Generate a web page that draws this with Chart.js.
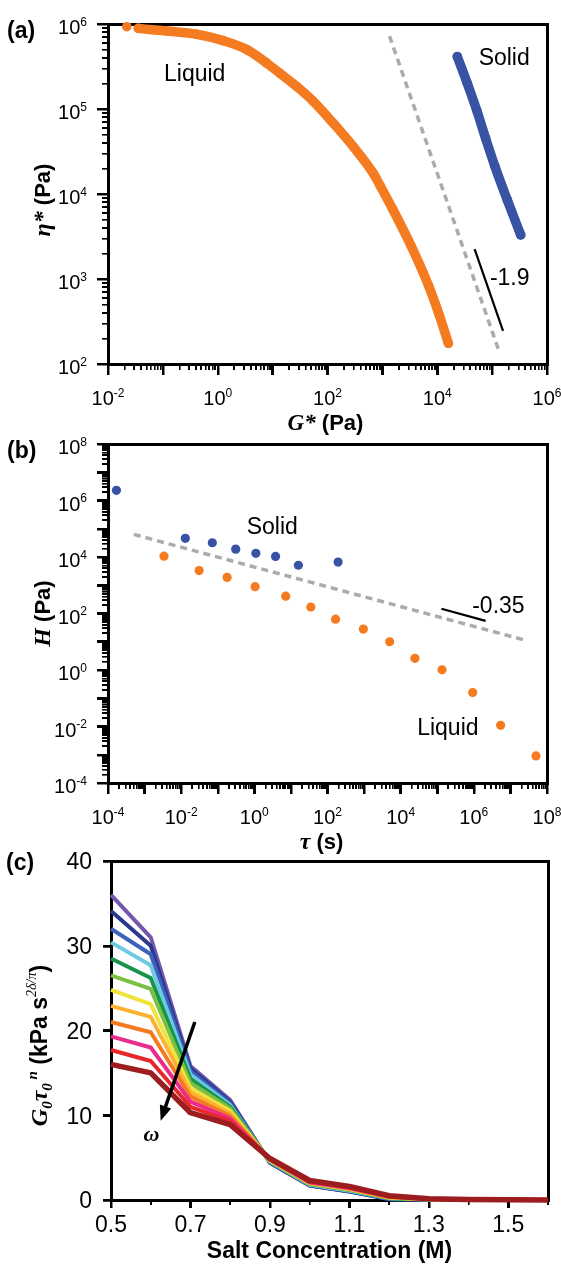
<!DOCTYPE html>
<html><head><meta charset="utf-8">
<script src="https://cdn.jsdelivr.net/npm/chart.js@4/dist/chart.umd.min.js"></script>
<style>
html,body{margin:0;padding:0;background:#fff;width:561px;height:1265px;overflow:hidden;position:relative}
canvas{position:absolute;left:0}
.fr{position:absolute;background:#000}
</style></head><body>
<canvas id="ca" width="561" height="440" style="top:0px"></canvas>
<canvas id="cb" width="561" height="440" style="top:420px"></canvas>
<canvas id="cc" width="561" height="425" style="top:840px"></canvas>
<script>
// ---------- DATA ----------
// (a) complex viscosity vs complex modulus
const aLiquidG   = [0.022, 0.0357, 0.1175, 0.413, 1.26, 3.37, 7.8, 13.6, 27.4, 55.1, 128, 295, 684, 906, 1549, 3281, 6966, 10940, 15960];
const aLiquidEta = [9.3e5, 8.89e5, 8.28e5, 7.57e5, 6.37e5, 5.01e5, 3.47e5, 2.63e5, 1.84e5, 1.23e5, 6.79e4, 3.61e4, 1.75e4, 1.26e4, 6.6e3, 2.51e3, 832, 372, 175];
const aSolidG    = [23200, 35300, 52200, 76200, 112700, 189000, 332000];
const aSolidEta  = [4.13e5, 2.0e5, 9.7e4, 4.5e4, 2.1e4, 8.5e3, 3.3e3];
const aGuideG    = [1350, 129000];
const aGuideEta  = [7.2e5, 151];
const aSlopeG    = [48000, 158000];
const aSlopeEta  = [2240, 245];
const aXLabelExp = [-2, 0, 2, 4, 6];
const aYLabelExp = [2, 3, 4, 5, 6];

// (b) relaxation spectrum
const bSolidTau  = [1.7e-4, 0.013, 0.071, 0.31, 1.1, 3.8, 16, 195];
const bSolidH    = [2.3e6, 4.6e4, 3.2e4, 1.9e4, 1.35e4, 1.05e4, 5.1e3, 6.6e3];
const bLiquidTau = [3.4e-3, 0.031, 0.18, 1.05, 7.2, 35, 166, 955, 5000, 24500, 135000, 9.3e5, 5.4e6, 5.0e7];
const bLiquidH   = [1.07e4, 3.3e3, 1.9e3, 890, 410, 170, 63, 28, 10, 2.6, 1.02, 0.16, 0.011, 9.1e-4];
const bGuideTau  = [5.1e-4, 2.6e7];
const bGuideH    = [6.3e4, 11.2];
const bSlopeTau  = [1.3e5, 2.1e6];
const bSlopeH    = [148, 55];
const bXLabelExp = [-4, -2, 0, 2, 4, 6, 8];
const bYLabelExp = [-4, -2, 0, 2, 4, 6, 8];

// (c) G0*tau0^n vs salt concentration, one series per frequency
const cSalt = [0.5, 0.6, 0.7, 0.8, 0.9, 1.0, 1.1, 1.2, 1.3, 1.4, 1.5, 1.6];
const cS1  = [36.0, 31.0, 15.8, 11.8, 4.4, 1.7, 1.0, 0.10, 0.05, 0.02, 0.01, 0];
const cS2  = [34.1, 30.0, 15.5, 11.6, 4.4, 1.7, 1.0, 0.10, 0.05, 0.02, 0.01, 0];
const cS3  = [32.0, 29.0, 15.2, 11.4, 4.5, 1.8, 1.1, 0.15, 0.05, 0.02, 0.01, 0];
const cS4  = [30.4, 27.7, 14.8, 11.2, 4.5, 1.8, 1.1, 0.20, 0.06, 0.02, 0.01, 0];
const cS5  = [28.5, 26.2, 14.3, 11.0, 4.6, 1.9, 1.2, 0.20, 0.07, 0.03, 0.01, 0];
const cS6  = [26.5, 24.9, 13.8, 10.8, 4.6, 1.9, 1.2, 0.25, 0.08, 0.03, 0.01, 0];
const cS7  = [24.8, 23.1, 13.2, 10.5, 4.7, 2.0, 1.3, 0.30, 0.09, 0.03, 0.01, 0];
const cS8  = [22.9, 21.6, 12.7, 10.2, 4.7, 2.0, 1.3, 0.30, 0.10, 0.04, 0.02, 0];
const cS9  = [21.0, 19.8, 12.2, 9.9, 4.8, 2.1, 1.4, 0.35, 0.11, 0.04, 0.02, 0];
const cS10 = [19.3, 18.0, 11.6, 9.6, 4.8, 2.1, 1.4, 0.40, 0.12, 0.04, 0.02, 0];
const cS11 = [17.7, 16.4, 11.0, 9.3, 4.9, 2.2, 1.5, 0.45, 0.13, 0.05, 0.02, 0];
const cS12 = [16.0, 15.0, 10.3, 8.9, 4.9, 2.3, 1.6, 0.50, 0.15, 0.05, 0.02, 0];
const cSeries = [cS1, cS2, cS3, cS4, cS5, cS6, cS7, cS8, cS9, cS10, cS11, cS12];
const cColors = ['#7457ad', '#2b3890', '#3c62bb', '#6ccbe2', '#16954a', '#7cc043', '#efe33c', '#fbb232', '#f47a22', '#ec2c8c', '#e6282a', '#9c1c20'];
const cXTicks = [0.5, 0.7, 0.9, 1.1, 1.3, 1.5];
const cYTicks = [0, 10, 20, 30, 40];

// ---------- STYLE ----------
const SANS = '"Liberation Sans", Arial, sans-serif';
const SERIF = '"Liberation Serif", "Times New Roman", serif';
const ORANGE = '#f47b20';
const BLUE = '#3953a4';
const GUIDE = '#ababab';

const pts = (xs, ys) => xs.map((x, i) => ({x, y: ys[i]}));

function drawRuns(ctx, runs, x, y, align, rot) {
  ctx.save();
  ctx.translate(x, y);
  if (rot) ctx.rotate(rot);
  let w = 0;
  runs.forEach(r => { ctx.font = r.f; w += ctx.measureText(r.t).width; });
  let cx = align === 'center' ? -w / 2 : (align === 'right' ? -w : 0);
  ctx.textBaseline = 'alphabetic';
  ctx.textAlign = 'left';
  ctx.fillStyle = '#000';
  runs.forEach(r => { ctx.font = r.f; ctx.fillText(r.t, cx, r.dy || 0); cx += ctx.measureText(r.t).width; });
  ctx.restore();
}
function powRuns(exp, size) {
  return [{t: '10', f: size + 'px ' + SANS}, {t: String(exp), f: Math.round(size * 0.62) + 'px ' + SANS, dy: -size * 0.42}];
}
function seg(ctx, x1, y1, x2, y2) { ctx.beginPath(); ctx.moveTo(x1, y1); ctx.lineTo(x2, y2); ctx.stroke(); }

function logTicks(min, max) {
  const out = [];
  const k0 = Math.round(Math.log10(min)), k1 = Math.round(Math.log10(max));
  for (let k = k0; k <= k1; k++) {
    out.push({v: Math.pow(10, k), major: true});
    if (k < k1) for (let m = 2; m <= 9; m++) out.push({v: m * Math.pow(10, k), major: false});
  }
  return out;
}

// Frame and tick marks drawn by Chart.js: bottom/left axes carry minor ticks,
// twin axes carry the longer major ticks, top/right axes only draw the box border.
function frameScales(f) {
  const zeroH = s => { s.height = 0; }, zeroW = s => { s.width = 0; };
  const setTicks = list => s => { s.ticks = list.map(t => ({value: t.v, major: t.major})); };
  const base = (axis, type, min, max, position, fit) => ({axis, type, min, max, position, afterFit: fit, ticks: {display: false}, title: {display: false}});
  const ticked = (len, w) => ({display: true, drawOnChartArea: false, drawTicks: true, tickLength: len, tickColor: '#000', tickWidth: w, color: '#000', lineWidth: w});
  const border = {display: true, color: '#000', width: 3};
  const minorX = f.xTicks.filter(t => !t.major), minorY = f.yTicks.filter(t => !t.major);
  return {
    x: Object.assign(base('x', f.xType, f.xMin, f.xMax, 'bottom', zeroH), {afterBuildTicks: setTicks(minorX.length ? minorX : f.xTicks), border, grid: ticked(minorX.length ? f.minLen : f.majLen, minorX.length ? 1.6 : 2.5)}),
    xMaj: Object.assign(base('x', f.xType, f.xMin, f.xMax, 'bottom', zeroH), {afterBuildTicks: setTicks(f.xTicks.filter(t => t.major)), border: {display: false}, grid: ticked(f.majLen, 2.5)}),
    xTop: Object.assign(base('x', f.xType, f.xMin, f.xMax, 'top', zeroH), {border, grid: {display: false}}),
    y: Object.assign(base('y', f.yType, f.yMin, f.yMax, 'left', zeroW), {afterBuildTicks: setTicks(minorY.length ? minorY : f.yTicks), border, grid: ticked(minorY.length ? f.minLen : f.majLen, minorY.length ? 1.6 : 2.5)}),
    yMaj: Object.assign(base('y', f.yType, f.yMin, f.yMax, 'left', zeroW), {afterBuildTicks: setTicks(f.yTicks.filter(t => t.major)), border: {display: false}, grid: ticked(f.majLen, 2.5)}),
    yRight: Object.assign(base('y', f.yType, f.yMin, f.yMax, 'right', zeroW), {border, grid: {display: false}})
  };
}

// Same frame and ticks as plain page elements placed under the canvases,
// positioned from the chart's own scales (a fallback so the box always shows).
function overlayFrame(chart, f) {
  const top = parseFloat(chart.canvas.style.top) || 0;
  const a = chart.chartArea, xs = chart.scales.x, ys = chart.scales.y;
  const first = document.body.firstChild;
  const add = (l, t, w, h) => {
    const d = document.createElement('div');
    d.className = 'fr';
    d.style.left = l + 'px'; d.style.top = (t + top) + 'px'; d.style.width = w + 'px'; d.style.height = h + 'px';
    document.body.insertBefore(d, first);
  };
  const fw = 3;
  add(a.left - fw / 2, a.top - fw / 2, a.right - a.left + fw, fw);
  add(a.left - fw / 2, a.bottom - fw / 2, a.right - a.left + fw, fw);
  add(a.left - fw / 2, a.top - fw / 2, fw, a.bottom - a.top + fw);
  add(a.right - fw / 2, a.top - fw / 2, fw, a.bottom - a.top + fw);
  f.xTicks.forEach(t => {
    const p = xs.getPixelForValue(t.v), w = t.major ? 2.5 : 1.6, len = t.major ? f.majLen : f.minLen;
    add(p - w / 2, a.bottom, w, len);
  });
  f.yTicks.forEach(t => {
    const p = ys.getPixelForValue(t.v), w = t.major ? 2.5 : 1.6, len = t.major ? f.majLen : f.minLen;
    add(a.left - len, p - w / 2, len, w);
  });
}

function decor(cfg) {
  return {
    id: 'decor' + cfg.key,
    afterDraw(chart) {
      const ctx = chart.ctx, a = chart.chartArea, xs = chart.scales.x, ys = chart.scales.y;
      const fs = cfg.tickFont;
      cfg.xLabels.forEach(l => drawRuns(ctx, l.runs, xs.getPixelForValue(l.v), a.bottom + cfg.xLabelOff + fs * 0.36, 'center'));
      cfg.yLabels.forEach(l => drawRuns(ctx, l.runs, a.left - cfg.yLabelOff, ys.getPixelForValue(l.v) + cfg.yLabelDy + fs * 0.36, 'right'));
      drawRuns(ctx, cfg.xTitle, (a.left + a.right) / 2 + cfg.xTitleDx, a.bottom + cfg.xTitleOff, 'center');
      drawRuns(ctx, cfg.yTitle, cfg.yTitleX, (a.top + a.bottom) / 2 + cfg.yTitleDy, 'center', -Math.PI / 2);
      drawRuns(ctx, [{t: cfg.letter, f: 'bold 23px ' + SANS}], cfg.letterX, cfg.letterY, 'left');
      (cfg.notes || []).forEach(n => drawRuns(ctx, [{t: n.t, f: n.f}], xs.getPixelForValue(n.x), ys.getPixelForValue(n.y) + n.size * 0.36, n.align || 'center'));
      if (cfg.arrow) {
        const ar = cfg.arrow;
        const x1 = xs.getPixelForValue(ar.x1), y1 = ys.getPixelForValue(ar.y1), x2 = xs.getPixelForValue(ar.x2), y2 = ys.getPixelForValue(ar.y2);
        const ang = Math.atan2(y2 - y1, x2 - x1), hl = 15, hw = 6;
        ctx.save();
        ctx.strokeStyle = '#000'; ctx.fillStyle = '#000'; ctx.lineWidth = 3.5;
        seg(ctx, x1, y1, x2 - Math.cos(ang) * hl * 0.8, y2 - Math.sin(ang) * hl * 0.8);
        ctx.beginPath();
        ctx.moveTo(x2, y2);
        ctx.lineTo(x2 - Math.cos(ang) * hl - Math.sin(ang) * hw, y2 - Math.sin(ang) * hl + Math.cos(ang) * hw);
        ctx.lineTo(x2 - Math.cos(ang) * hl + Math.sin(ang) * hw, y2 - Math.sin(ang) * hl - Math.cos(ang) * hw);
        ctx.closePath(); ctx.fill();
        ctx.restore();
      }
    }
  };
}

function baseOptions(pad, f) {
  return {
    responsive: false, animation: false, events: [],
    layout: {padding: pad},
    plugins: {legend: {display: false}, tooltip: {enabled: false}},
    scales: frameScales(f)
  };
}

const curveDs = (data, color, skipFirst) => ({
  data, showLine: true, borderColor: color, backgroundColor: color, borderWidth: 9.5, pointRadius: 4.8, pointBorderWidth: 0,
  cubicInterpolationMode: 'monotone', borderCapStyle: 'round', borderJoinStyle: 'round', clip: false,
  segment: skipFirst ? {borderColor: c => c.p0DataIndex === 0 ? 'rgba(0,0,0,0)' : color} : undefined
});
const dotsDs = (data, color) => ({data, showLine: false, backgroundColor: color, borderColor: color, pointRadius: 4.6, pointBorderWidth: 0, clip: false});
const guideDs = data => ({data, showLine: true, borderColor: GUIDE, borderWidth: 3.5, borderDash: [7, 5], pointRadius: 0, clip: false});
const slopeDs = data => ({data, showLine: true, borderColor: '#000', borderWidth: 2.2, pointRadius: 0, clip: false});

const noteFont = 23;

const fA = {xType: 'logarithmic', xMin: 1e-2, xMax: 1e6, yType: 'logarithmic', yMin: 1e2, yMax: 1e6,
  xTicks: logTicks(1e-2, 1e6), yTicks: logTicks(1e2, 1e6), majLen: 11, minLen: 6};
const fB = {xType: 'logarithmic', xMin: 1e-4, xMax: 1e8, yType: 'logarithmic', yMin: 1e-4, yMax: 1e8,
  xTicks: logTicks(1e-4, 1e8), yTicks: logTicks(1e-4, 1e8), majLen: 11, minLen: 6};
const fC = {xType: 'linear', xMin: 0.5, xMax: 1.6, yType: 'linear', yMin: 0, yMax: 40,
  xTicks: cSalt.map(v => ({v, major: cXTicks.some(t => Math.abs(t - v) < 1e-6)})),
  yTicks: cYTicks.map(v => ({v, major: true})), majLen: 8, minLen: 5};

// ---------- (a) ----------
const chartA = new Chart(document.getElementById('ca'), {
  type: 'scatter',
  data: {datasets: [
    guideDs(pts(aGuideG, aGuideEta)),
    slopeDs(pts(aSlopeG, aSlopeEta)),
    curveDs(pts(aLiquidG, aLiquidEta), ORANGE, true),
    curveDs(pts(aSolidG, aSolidEta), BLUE, false)
  ]},
  options: baseOptions({left: 108, right: 14, top: 24, bottom: 76}, fA),
  plugins: [decor({
    key: 'a', tickFont: 20, xLabelOff: 34, yLabelOff: 21, yLabelDy: 3,
    xLabels: aXLabelExp.map(e => ({v: Math.pow(10, e), runs: powRuns(e, 20)})),
    yLabels: aYLabelExp.map(e => ({v: Math.pow(10, e), runs: powRuns(e, 20)})),
    xTitle: [{t: 'G*', f: 'italic bold 23px ' + SERIF}, {t: ' (Pa)', f: 'bold 22px ' + SANS}], xTitleDx: -2, xTitleOff: 66,
    yTitle: [{t: 'η*', f: 'italic bold 24px ' + SERIF}, {t: ' (Pa)', f: 'bold 22px ' + SANS}], yTitleX: 50, yTitleDy: 6,
    letter: '(a)', letterX: 7, letterY: 38,
    notes: [
      {t: 'Liquid', x: 0.38, y: 2.7e5, size: noteFont, f: noteFont + 'px ' + SANS},
      {t: 'Solid', x: 1.66e5, y: 4.1e5, size: noteFont, f: noteFont + 'px ' + SANS},
      {t: '-1.9', x: 9.1e4, y: 1050, size: noteFont, f: noteFont + 'px ' + SANS, align: 'left'}
    ]
  })]
});
overlayFrame(chartA, fA);

// ---------- (b) ----------
const chartB = new Chart(document.getElementById('cb'), {
  type: 'scatter',
  data: {datasets: [
    guideDs(pts(bGuideTau, bGuideH)),
    slopeDs(pts(bSlopeTau, bSlopeH)),
    dotsDs(pts(bLiquidTau, bLiquidH), ORANGE),
    dotsDs(pts(bSolidTau, bSolidH), BLUE)
  ]},
  options: baseOptions({left: 108, right: 14, top: 24, bottom: 77}, fB),
  plugins: [decor({
    key: 'b', tickFont: 20, xLabelOff: 34, yLabelOff: 21, yLabelDy: 3,
    xLabels: bXLabelExp.map(e => ({v: Math.pow(10, e), runs: powRuns(e, 20)})),
    yLabels: bYLabelExp.map(e => ({v: Math.pow(10, e), runs: powRuns(e, 20)})),
    xTitle: [{t: 'τ', f: 'italic bold 24px ' + SERIF}, {t: ' (s)', f: 'bold 22px ' + SANS}], xTitleDx: -6, xTitleOff: 66,
    yTitle: [{t: 'H', f: 'italic bold 24px ' + SERIF}, {t: ' (Pa)', f: 'bold 22px ' + SANS}], yTitleX: 50, yTitleDy: 0,
    letter: '(b)', letterX: 7, letterY: 38,
    notes: [
      {t: 'Solid', x: 3.1, y: 1.26e5, size: noteFont, f: noteFont + 'px ' + SANS},
      {t: 'Liquid', x: 1.95e5, y: 9.5e-3, size: noteFont, f: noteFont + 'px ' + SANS},
      {t: '-0.35', x: 4.7e6, y: 200, size: noteFont, f: noteFont + 'px ' + SANS}
    ]
  })]
});
overlayFrame(chartB, fB);

// ---------- (c) ----------
const chartC = new Chart(document.getElementById('cc'), {
  type: 'scatter',
  data: {datasets: cSeries.map((s, i) => ({
    data: pts(cSalt, s), showLine: true, borderColor: cColors[i], backgroundColor: cColors[i],
    borderWidth: i === cSeries.length - 1 ? 5.5 : 4, pointRadius: 0, clip: false, order: cSeries.length - i,
    borderJoinStyle: 'round', borderCapStyle: 'butt'
  }))},
  options: baseOptions({left: 111, right: 13, top: 21, bottom: 65}, fC),
  plugins: [decor({
    key: 'c', tickFont: 23, xLabelOff: 24, yLabelOff: 19, yLabelDy: 0,
    xLabels: cXTicks.map(v => ({v, runs: [{t: v.toFixed(1), f: '23px ' + SANS}]})),
    yLabels: cYTicks.map(v => ({v, runs: [{t: String(v), f: '23px ' + SANS}]})),
    xTitle: [{t: 'Salt Concentration (M)', f: 'bold 23px ' + SANS}], xTitleDx: 0, xTitleOff: 58,
    yTitle: [
      {t: 'G', f: 'italic bold 24px ' + SERIF},
      {t: '0', f: 'italic bold 15px ' + SERIF, dy: 5},
      {t: 'τ', f: 'italic bold 24px ' + SERIF},
      {t: '0', f: 'italic bold 15px ' + SERIF, dy: 5},
      {t: ' n', f: 'italic bold 15px ' + SERIF, dy: -10},
      {t: ' (kPa s', f: 'bold 23px ' + SANS},
      {t: '2δ/π', f: 'italic 14px ' + SERIF, dy: -11},
      {t: ')', f: 'bold 23px ' + SANS}
    ], yTitleX: 47, yTitleDy: 15,
    letter: '(c)', letterX: 6, letterY: 30,
    notes: [{t: 'ω', x: 0.602, y: 7.9, size: 22, f: 'italic bold 22px ' + SERIF}],
    arrow: {x1: 0.711, y1: 21.0, x2: 0.625, y2: 9.35}
  })]
});
overlayFrame(chartC, fC);
</script>
</body></html>
